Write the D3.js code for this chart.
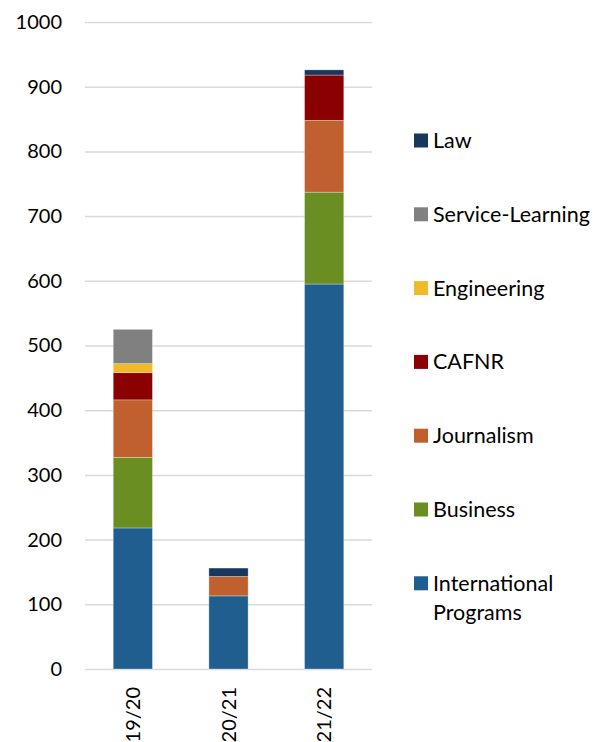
<!DOCTYPE html>
<html>
<head>
<meta charset="utf-8">
<script src="https://cdn.jsdelivr.net/npm/d3@7"></script>
<style>
  body { margin: 0; background: #fff; }
  text { font-family: Lato, "Open Sans", sans-serif; fill: #000; }
  .grid line { stroke: #d9d9d9; stroke-width: 1.5; }
</style>
</head>
<body>
<div id="chart"></div>
<script>
// data
const years = ['19/20', '20/21', '21/22'];
const series = ['International Programs', 'Business', 'Journalism', 'CAFNR', 'Engineering', 'Service-Learning', 'Law'];
const intlPrograms = [218, 113, 595];
const business = [109, 0, 142];
const journalism = [89, 30, 111];
const cafnr = [42, 0, 70];
const engineering = [14, 0, 0];
const serviceLearning = [53, 0, 0];
const law = [0, 13, 8];
const yTicks = [0, 100, 200, 300, 400, 500, 600, 700, 800, 900, 1000];
const colors = ['#1f5e8e', '#6b8e23', '#c0602e', '#8b0000', '#f0b929', '#808080', '#17375e'];

const seriesValues = [intlPrograms, business, journalism, cafnr, engineering, serviceLearning, law];
const rows = years.map((y, i) => {
  const r = {year: y};
  series.forEach((s, j) => r[s] = seriesValues[j][i]);
  return r;
});

// chart params
const width = 607, height = 742;
const margin = {top: 22, right: 235, bottom: 73, left: 85};
const w = width - margin.left - margin.right,
      h = height - margin.top - margin.bottom;

const svg = d3.select('#chart')
  .append('svg')
    .attr('width', width)
    .attr('height', height)
  .append('g')
    .attr('transform', `translate(${margin.left},${margin.top})`);

const xScale = d3.scaleBand()
  .domain(years)
  .range([0, w])
  .paddingInner(0.59)
  .paddingOuter(0.295);

const yScale = d3.scaleLinear()
  .domain([0, 1000])
  .range([h, 0]);

const color = d3.scaleOrdinal().domain(series).range(colors);

// grid
svg.append('g')
  .attr('class', 'grid')
  .call(d3.axisLeft(yScale).tickValues(yTicks).tickSize(-w).tickFormat(''))
  .call(g => g.select('.domain').remove());

// y tick labels
svg.append('g')
  .call(d3.axisLeft(yScale).tickValues(yTicks).tickSize(0).tickPadding(23).tickFormat(d3.format('d')))
  .call(g => g.select('.domain').remove())
  .selectAll('text')
    .style('font-size', '20px');

// bars
const stacked = d3.stack().keys(series)(rows);
svg.append('g')
  .selectAll('g')
  .data(stacked)
  .join('g')
    .attr('fill', d => color(d.key))
  .selectAll('rect')
  .data(d => d.filter(p => p[1] - p[0] > 0))
  .join('rect')
    .attr('x', d => xScale(d.data.year))
    .attr('y', d => yScale(d[1]))
    .attr('width', xScale.bandwidth())
    .attr('height', d => yScale(d[0]) - yScale(d[1]))
    .attr('stroke', '#fff')
    .attr('stroke-opacity', 0.4)
    .attr('stroke-width', 0.75);

// x labels, rotated
svg.append('g')
  .selectAll('text')
  .data(years)
  .join('text')
    .attr('transform', d => `translate(${xScale(d) + xScale.bandwidth() / 2 + 7},${h + 18}) rotate(-90)`)
    .attr('text-anchor', 'end')
    .style('font-size', '20px')
    .text(d => d);

// legend (top to bottom: reversed stack order)
const legendX = 414 - margin.left;
const legendY0 = 140.5 - margin.top;
const legendStep = 73.8;
const legend = svg.append('g')
  .selectAll('g')
  .data(series.slice().reverse())
  .join('g')
    .attr('transform', (d, i) => `translate(${legendX},${legendY0 + i * legendStep})`);

legend.append('rect')
  .attr('x', 0)
  .attr('y', -7)
  .attr('width', 14)
  .attr('height', 14)
  .attr('fill', d => color(d));

legend.append('text')
  .attr('x', 19)
  .attr('y', 7.5)
  .style('font-size', '21.5px')
  .each(function(d) {
    const parts = d === 'International Programs' ? ['International', 'Programs'] : [d];
    d3.select(this).selectAll('tspan')
      .data(parts)
      .join('tspan')
        .attr('x', 19)
        .attr('dy', (p, i) => i === 0 ? 0 : 29)
        .text(p => p);
  });
</script>
</body>
</html>
